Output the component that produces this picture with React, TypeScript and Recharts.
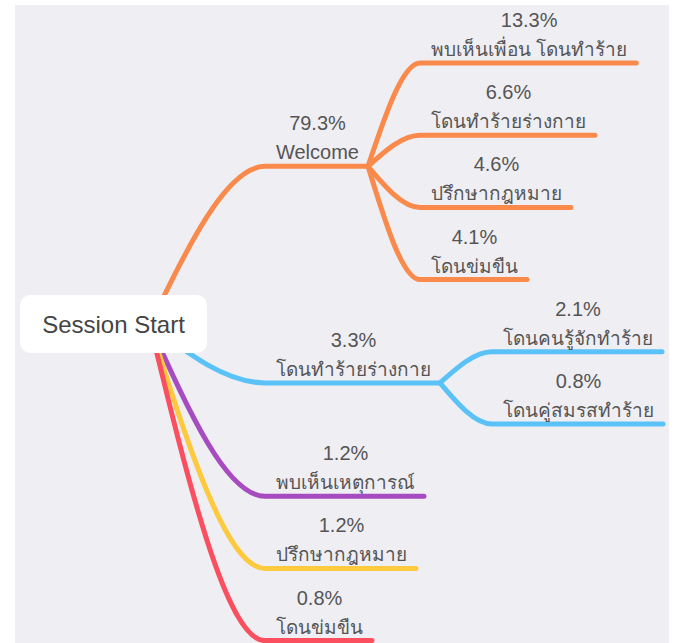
import React from 'react';
import { ComposedChart, Line, Scatter, XAxis, YAxis } from 'recharts';

// ---------- data ----------
const nodeNames = [
  'Session Start',
  'Welcome',
  'พบเห็นเพื่อน โดนทำร้าย',
  'โดนทำร้ายร่างกาย',
  'ปรึกษากฎหมาย',
  'โดนข่มขืน',
  'โดนทำร้ายร่างกาย',
  'โดนคนรู้จักทำร้าย',
  'โดนคู่สมรสทำร้าย',
  'พบเห็นเหตุการณ์',
  'ปรึกษากฎหมาย',
  'โดนข่มขืน',
];
const nodePercents: (number | null)[] = [null, 79.3, 13.3, 6.6, 4.6, 4.1, 3.3, 2.1, 0.8, 1.2, 1.2, 0.8];
const nodeParents = [-1, 0, 1, 1, 1, 1, 0, 6, 6, 0, 0, 0];
const branchColors = ['#fa8a4b', '#5bc2f7', '#a64cc0', '#fdc93d', '#fb4e5e'];

// ---------- layout constants ----------
const W = 679;
const H = 643;
const FONT = '"Liberation Sans", Arial, "Noto Sans", sans-serif';
const LABEL_SIZE = 20;
const THAI_SIZE = 19;
const ROOT_SIZE = 24;
const TEXT_COLOR = '#555555';
const ROOT_BOX = { x: 20, y: 295, w: 187, h: 58 };
const ROOT_ANCHOR = { x: 150, y: 325 };
const LEVEL1_START = 265;
const LEVEL_GAP = 52;
const LINE_PAD = 10;
const LEAF_TOP = 63;
const LEAF_STEP = 72.2;
const PARENT_LIFT = 5;

const isThai = (s: string) => /[\u0E00-\u0E7F]/.test(s);
const sizeFor = (s: string) => (isThai(s) ? THAI_SIZE : LABEL_SIZE);

let ctx: CanvasRenderingContext2D | null = null;
function textWidth(s: string, size: number): number {
  if (!ctx && typeof document !== 'undefined') {
    ctx = document.createElement('canvas').getContext('2d');
  }
  if (!ctx) return s.length * size * 0.55;
  ctx.font = `${size}px ${FONT}`;
  return ctx.measureText(s).width;
}

const fmtPct = (p: number | null) => (p == null ? '' : `${p.toFixed(1)}%`);

type LNode = {
  id: number;
  name: string;
  pct: string;
  parent: number;
  children: number[];
  depth: number;
  color: string;
  y: number;
  xStart: number;
  xEnd: number;
};

function buildLayout(): LNode[] {
  const nodes: LNode[] = nodeNames.map((name, id) => ({
    id,
    name,
    pct: fmtPct(nodePercents[id]),
    parent: nodeParents[id],
    children: [],
    depth: 0,
    color: '#999',
    y: 0,
    xStart: 0,
    xEnd: 0,
  }));
  nodes.forEach((n) => {
    if (n.parent >= 0) nodes[n.parent].children.push(n.id);
  });
  let slot = 0;
  let branch = 0;
  const visit = (id: number, depth: number, color: string) => {
    const n = nodes[id];
    n.depth = depth;
    if (depth === 1) color = branchColors[branch++ % branchColors.length];
    n.color = color;
    if (depth > 0) {
      n.xStart = depth === 1 ? LEVEL1_START : nodes[n.parent].xEnd + LEVEL_GAP;
      const w = Math.max(textWidth(n.name, sizeFor(n.name)), textWidth(n.pct, LABEL_SIZE));
      n.xEnd = n.xStart + w + 2 * LINE_PAD;
    }
    n.children.forEach((c) => visit(c, depth + 1, color));
    if (depth > 0) {
      if (n.children.length === 0) {
        n.y = LEAF_TOP + slot * LEAF_STEP;
        slot++;
      } else {
        const ys = n.children.map((c) => nodes[c].y);
        n.y = ys.reduce((a, b) => a + b, 0) / ys.length - PARENT_LIFT;
      }
    } else {
      n.y = ROOT_ANCHOR.y;
      n.xEnd = ROOT_ANCHOR.x;
    }
  };
  visit(0, 0, '#999');
  return nodes;
}

const nodes = buildLayout();

const edges = nodes
  .filter((n) => n.parent >= 0)
  .map((n) => {
    const p = nodes[n.parent];
    const start = p.parent < 0 ? { x: ROOT_ANCHOR.x, y: ROOT_ANCHOR.y } : { x: p.xEnd, y: p.y };
    return {
      id: n.id,
      color: n.color,
      points: [start, { x: n.xStart, y: n.y }, { x: n.xEnd, y: n.y }],
    };
  });

const labelData = nodes
  .filter((n) => n.parent >= 0)
  .map((n) => ({ x: (n.xStart + n.xEnd) / 2 + 1, y: n.y, pct: n.pct, name: n.name }));

const rootData = [{ x: ROOT_BOX.x + ROOT_BOX.w / 2, y: ROOT_BOX.y + ROOT_BOX.h / 2, name: nodes[0].name }];

const LabelShape = (props: any) => {
  const { cx, cy, payload } = props;
  if (cx == null || cy == null) return null;
  return (
    <g>
      <text x={cx} y={cy - 36} textAnchor="middle" fontSize={LABEL_SIZE} fontFamily={FONT} fill={TEXT_COLOR}>
        {payload.pct}
      </text>
      <text x={cx} y={cy - 7} textAnchor="middle" fontSize={sizeFor(payload.name)} fontFamily={FONT} fill={TEXT_COLOR}>
        {payload.name}
      </text>
    </g>
  );
};

const RootShape = (props: any) => {
  const { cx, cy, payload } = props;
  if (cx == null || cy == null) return null;
  return (
    <g>
      <rect
        x={cx - ROOT_BOX.w / 2}
        y={cy - ROOT_BOX.h / 2}
        width={ROOT_BOX.w}
        height={ROOT_BOX.h}
        rx={10}
        ry={10}
        fill="#ffffff"
      />
      <text x={cx} y={cy + 9} textAnchor="middle" fontSize={ROOT_SIZE} fontFamily={FONT} fill="#444444">
        {payload.name}
      </text>
    </g>
  );
};

export default function App() {
  return (
    <div style={{ position: 'absolute', left: 0, top: 0, width: W, height: H, background: '#ffffff', overflow: 'hidden' }}>
      <div style={{ position: 'absolute', left: 15, top: 5, width: 654, height: H - 5, background: '#efeef3' }} />
      <div style={{ position: 'absolute', left: 0, top: 0 }}>
        <ComposedChart width={W} height={H} margin={{ top: 0, right: 0, bottom: 0, left: 0 }}>
          <XAxis type="number" dataKey="x" domain={[0, W]} hide allowDataOverflow />
          <YAxis type="number" dataKey="y" domain={[0, H]} reversed hide allowDataOverflow />
          {edges.map((e) => (
            <Line
              key={`edge-${e.id}`}
              data={e.points}
              dataKey="y"
              type="monotoneX"
              stroke={e.color}
              strokeWidth={5}
              strokeLinecap="round"
              dot={false}
              activeDot={false}
              isAnimationActive={false}
            />
          ))}
          <Scatter data={labelData} shape={LabelShape} isAnimationActive={false} />
          <Scatter data={rootData} shape={RootShape} isAnimationActive={false} />
        </ComposedChart>
      </div>
    </div>
  );
}
